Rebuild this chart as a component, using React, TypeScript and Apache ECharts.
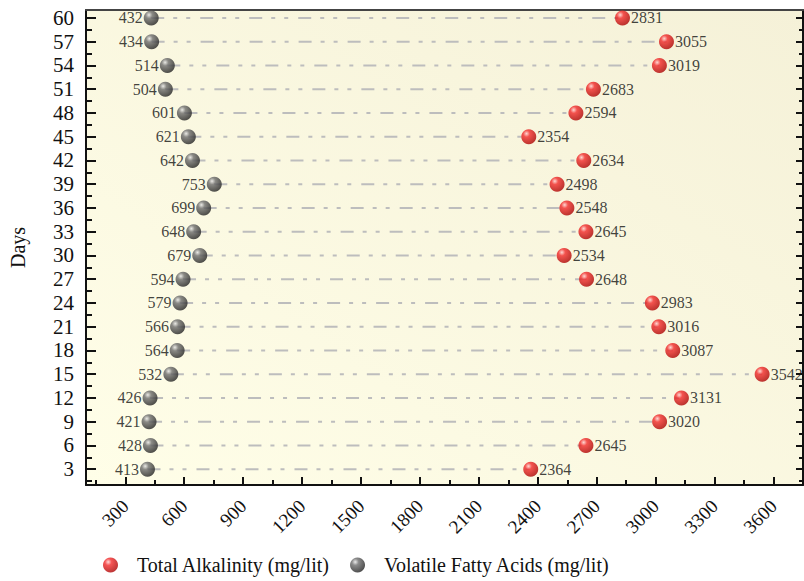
import React, { useEffect, useRef } from "react";
import * as echarts from "echarts";

const days = [60, 57, 54, 51, 48, 45, 42, 39, 36, 33, 30, 27, 24, 21, 18, 15, 12, 9, 6, 3];
const vfa = [432, 434, 514, 504, 601, 621, 642, 753, 699, 648, 679, 594, 579, 566, 564, 532, 426, 421, 428, 413];
const alkalinity = [2831, 3055, 3019, 2683, 2594, 2354, 2634, 2498, 2548, 2645, 2534, 2648, 2983, 3016, 3087, 3542, 3131, 3020, 2645, 2364];
const xTicks = [300, 600, 900, 1200, 1500, 1800, 2100, 2400, 2700, 3000, 3300, 3600];
const xMinorTicks = [150, 450, 750, 1050, 1350, 1650, 1950, 2250, 2550, 2850, 3150, 3450];
const yTicks = [3, 6, 9, 12, 15, 18, 21, 24, 27, 30, 33, 36, 39, 42, 45, 48, 51, 54, 57, 60];
const yMinorTicks = [1.5, 4.5, 7.5, 10.5, 13.5, 16.5, 19.5, 22.5, 25.5, 28.5, 31.5, 34.5, 37.5, 40.5, 43.5, 46.5, 49.5, 52.5, 55.5, 58.5];

const SERIF = "'Liberation Serif', 'Times New Roman', serif";

export default function App() {
  const ref = useRef<HTMLDivElement>(null);
  useEffect(() => {
    if (!ref.current) return;
    const chart = echarts.init(ref.current, null, { renderer: "svg" });
    const redBall = new echarts.graphic.RadialGradient(0.35, 0.3, 0.75, [
      { offset: 0, color: "#ffd0d0" },
      { offset: 0.3, color: "#f22a2a" },
      { offset: 1, color: "#a80000" },
    ]);
    const greyBall = new echarts.graphic.RadialGradient(0.35, 0.3, 0.75, [
      { offset: 0, color: "#e6e6e6" },
      { offset: 0.3, color: "#6e6e6e" },
      { offset: 1, color: "#1e1e1e" },
    ]);
    const xMin = 100, xMax = 3750, yMin = 1, yMax = 61;
    const axisLineStyle = { color: "#111", width: 2 };
    const option: any = {
      animation: false,
      grid: {
        left: 82,
        top: 10,
        width: 721,
        height: 475,
        show: true,
        borderWidth: 0,
        backgroundColor: new echarts.graphic.LinearGradient(0, 1, 1, 0, [
          { offset: 0, color: "#fffee8" },
          { offset: 1, color: "#f5f1d8" },
        ]),
      },
      legend: {
        left: 98,
        top: 550,
        itemWidth: 15,
        itemHeight: 15,
        itemGap: 20,
        icon: "circle",
        textStyle: { fontFamily: SERIF, fontSize: 20, color: "#111", padding: [0, 0, 0, 14] },
        data: [
          { name: "Total Alkalinity (mg/lit)", itemStyle: { color: redBall } },
          { name: "Volatile Fatty Acids (mg/lit)", itemStyle: { color: greyBall } },
        ],
      },
      xAxis: [
        {
          type: "value",
          position: "bottom",
          min: xMin,
          max: xMax,
          splitLine: { show: false },
          axisLine: { show: true, lineStyle: axisLineStyle },
          axisTick: { show: true, inside: true, length: 8, lineStyle: { width: 2, color: "#111" }, customValues: xTicks },
          axisLabel: {
            customValues: xTicks,
            rotate: 45,
            margin: 18,
            fontFamily: SERIF,
            fontSize: 19,
            color: "#111",
            formatter: (v: number) => String(v),
          },
        },
        {
          type: "value",
          position: "bottom",
          min: xMin,
          max: xMax,
          splitLine: { show: false },
          axisLine: { show: false },
          axisTick: { show: true, inside: true, length: 5, lineStyle: { width: 2, color: "#111" }, customValues: xMinorTicks },
          axisLabel: { show: false },
        },
        {
          type: "value",
          position: "top",
          min: xMin,
          max: xMax,
          splitLine: { show: false },
          axisLine: { show: true, lineStyle: { color: "#444", width: 2 } },
          axisTick: { show: false },
          axisLabel: { show: false },
        },
      ],
      yAxis: [
        {
          type: "value",
          position: "left",
          min: yMin,
          max: yMax,
          name: "Days",
          nameLocation: "middle",
          nameRotate: 90,
          nameGap: 58,
          nameTextStyle: { fontFamily: SERIF, fontSize: 20, color: "#111" },
          splitLine: { show: false },
          axisLine: { show: true, lineStyle: axisLineStyle },
          axisTick: { show: true, inside: true, length: 10, lineStyle: { width: 2, color: "#111" }, customValues: yTicks },
          axisLabel: { customValues: yTicks, margin: 12, fontFamily: SERIF, fontSize: 21, color: "#111" },
        },
        {
          type: "value",
          position: "left",
          min: yMin,
          max: yMax,
          splitLine: { show: false },
          axisLine: { show: false },
          axisTick: { show: true, inside: true, length: 6, lineStyle: { width: 2, color: "#111" }, customValues: yMinorTicks },
          axisLabel: { show: false },
        },
        {
          type: "value",
          position: "right",
          min: yMin,
          max: yMax,
          splitLine: { show: false },
          axisLine: { show: true, lineStyle: axisLineStyle },
          axisTick: { show: true, inside: true, length: 7, lineStyle: { width: 2, color: "#111" }, customValues: yTicks },
          axisLabel: { show: false },
        },
        {
          type: "value",
          position: "right",
          min: yMin,
          max: yMax,
          splitLine: { show: false },
          axisLine: { show: false },
          axisTick: { show: true, inside: true, length: 4, lineStyle: { width: 2, color: "#111" }, customValues: yMinorTicks },
          axisLabel: { show: false },
        },
      ],
      series: [
        {
          type: "custom",
          name: "connector",
          xAxisIndex: 0,
          yAxisIndex: 0,
          silent: true,
          z: 1,
          encode: { x: [1, 2], y: 0 },
          data: days.map((d, i) => [d, vfa[i], alkalinity[i]]),
          renderItem: (params: any, api: any) => {
            const a = api.coord([api.value(1), api.value(0)]);
            const b = api.coord([api.value(2), api.value(0)]);
            return {
              type: "line",
              shape: { x1: a[0], y1: a[1], x2: b[0], y2: b[1] },
              style: { stroke: "#bdbdbd", lineWidth: 2, lineDash: [13, 9, 4, 9, 4, 10] },
            };
          },
        },
        {
          type: "scatter",
          name: "Total Alkalinity (mg/lit)",
          xAxisIndex: 0,
          yAxisIndex: 0,
          z: 3,
          symbol: "circle",
          symbolSize: 15,
          itemStyle: { color: redBall },
          label: {
            show: true,
            position: "right",
            distance: 1,
            fontFamily: SERIF,
            fontSize: 16,
            color: "#111",
            formatter: (p: any) => String(p.value[0]),
          },
          data: days.map((d, i) => [alkalinity[i], d]),
        },
        {
          type: "scatter",
          name: "Volatile Fatty Acids (mg/lit)",
          xAxisIndex: 0,
          yAxisIndex: 0,
          z: 3,
          symbol: "circle",
          symbolSize: 15,
          itemStyle: { color: greyBall },
          label: {
            show: true,
            position: "left",
            distance: 1,
            fontFamily: SERIF,
            fontSize: 16,
            color: "#111",
            formatter: (p: any) => String(p.value[0]),
          },
          data: days.map((d, i) => [vfa[i], d]),
        },
      ],
    };
    chart.setOption(option);
    return () => chart.dispose();
  }, []);
  return (
    <div
      ref={ref}
      style={{ position: "fixed", left: 0, top: 0, width: 804, height: 581, background: "#fff" }}
    />
  );
}
